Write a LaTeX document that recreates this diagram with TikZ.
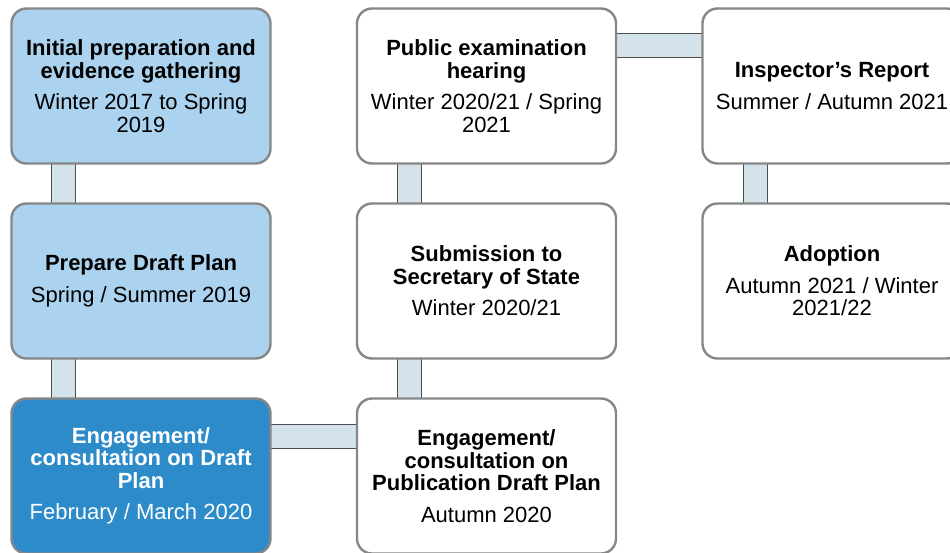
\documentclass[tikz,border=0pt]{standalone}
\usepackage{fontspec}
\setmainfont{Liberation Sans}
\usetikzlibrary{backgrounds}
\definecolor{paleblue}{HTML}{ABD2EE}
\definecolor{midblue}{HTML}{2E8BCA}
\definecolor{barfill}{HTML}{D4E2EB}
\definecolor{boxline}{HTML}{878787}
\definecolor{barline}{HTML}{4D4D4D}
\tikzset{
  stage/.style={draw=boxline, line width=2.4pt, rounded corners=15pt,
    minimum width=259pt, minimum height=155pt, align=center,
    font=\fontsize{22}{22.5}\selectfont, inner sep=0pt, outer sep=0pt,
    fill=white, text=black},
  early/.style={stage, fill=paleblue},
  current/.style={stage, fill=midblue, text=white},
  bar/.style={draw=barline, line width=0.9pt, fill=barfill},
}
\begin{document}
\begin{tikzpicture}[x=1pt,y=-1pt]
\useasboundingbox (0,0) rectangle (950,552);
\clip (0,0) rectangle (950,552);

% first column: preparation stages
\node[early] (s1) at (141,86)
  {\textbf{Initial preparation and}\\\textbf{evidence gathering}\\[9pt]Winter 2017 to Spring\\2019};
\node[early] (s2) at (141,281)
  {\textbf{Prepare Draft Plan}\\[9pt]Spring / Summer 2019};
\node[current] (s3) at (141,476)
  {\textbf{Engagement/}\\\textbf{consultation on Draft}\\\textbf{Plan}\\[9pt]February / March 2020};

% second column: publication and submission
\node[stage] (s4) at (486.5,476)
  {\textbf{Engagement/}\\\textbf{consultation on}\\\textbf{Publication Draft Plan}\\[9pt]Autumn 2020};
\node[stage] (s5) at (486.5,281)
  {\textbf{Submission to}\\\textbf{Secretary of State}\\[9pt]Winter 2020/21};
\node[stage] (s6) at (486.5,86)
  {\textbf{Public examination}\\\textbf{hearing}\\[9pt]Winter 2020/21 / Spring\\2021};

% third column: report and adoption
\node[stage] (s7) at (832,86)
  {\textbf{Inspector’s Report}\\[9pt]Summer / Autumn 2021};
\node[stage] (s8) at (832,281)
  {\textbf{Adoption}\\[9pt]Autumn 2021 / Winter\\2021/22};

% connecting bars, behind the boxes
\begin{scope}[on background layer]
  \fill[white] (0,0) rectangle (950,552);
  \draw[bar] ([xshift=40pt]s1.south west) rectangle ([xshift=64pt]s2.north west);
  \draw[bar] ([xshift=40pt]s2.south west) rectangle ([xshift=64pt]s3.north west);
  \draw[bar] ([yshift=-26pt]s3.north east) rectangle ([yshift=-50pt]s4.north west);
  \draw[bar] ([xshift=40pt]s5.south west) rectangle ([xshift=64pt]s4.north west);
  \draw[bar] ([xshift=40pt]s6.south west) rectangle ([xshift=64pt]s5.north west);
  \draw[bar] ([yshift=-25pt]s6.north east) rectangle ([yshift=-49pt]s7.north west);
  \draw[bar] ([xshift=41pt]s7.south west) rectangle ([xshift=65pt]s8.north west);
\end{scope}
\end{tikzpicture}
\end{document}
